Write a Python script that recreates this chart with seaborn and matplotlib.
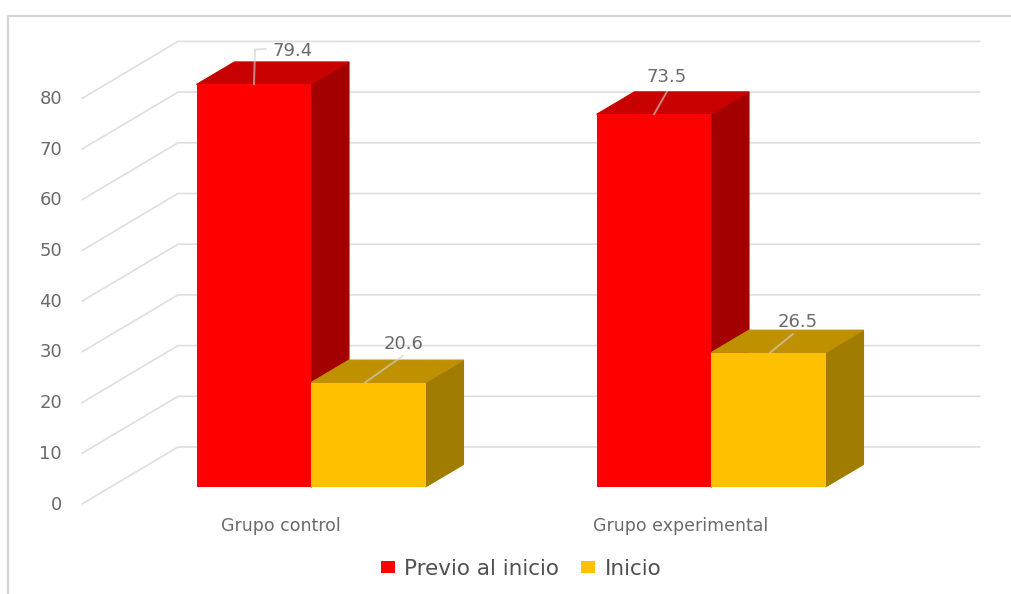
import pandas as pd
import seaborn as sns
import matplotlib.pyplot as plt
from matplotlib.patches import Polygon

grupos = ["Grupo control", "Grupo experimental"]
previo = [79.4, 73.5]
inicio = [20.6, 26.5]
series = ["Previo al inicio", "Inicio"]
ticks = [0, 10, 20, 30, 40, 50, 60, 70, 80]

W, H = 1011, 594
PX_X = 400.0      # pixels per category
PX_Y = 5.07       # pixels per percent
BASE_X, BASE_Y = 311, 487

front = {"Previo al inicio": "#FF0000", "Inicio": "#FFC000"}
side = {"Previo al inicio": "#A30000", "Inicio": "#A07C00"}
top = {"Previo al inicio": "#C80000", "Inicio": "#BF9000"}
GRID = "#DEDEDE"
TEXT = "#6A6A6A"


def px(x):
    return (x - BASE_X) / PX_X


def py(y):
    return (BASE_Y - y) / PX_Y


data = pd.DataFrame({
    "grupo": grupos * 2,
    "serie": [series[0]] * 2 + [series[1]] * 2,
    "valor": previo + inicio,
})

sns.set_theme(style="white")
plt.rcParams["font.family"] = ["DejaVu Sans"]

fig = plt.figure(figsize=(W / 100, H / 100), dpi=100)
ax = fig.add_axes([0, 0, 1, 1])
sns.barplot(data=data, x="grupo", y="valor", hue="serie", palette=front,
            width=0.5725, gap=0, saturation=1, linewidth=0, ax=ax, zorder=5)
ax.set_xlim(px(0), px(W))
ax.set_ylim(py(H), py(0))
ax.axis("off")

# depth of the bars and of the floor, in data units
dx = 38 / PX_X
dy = 22.5 / PX_Y
wall_x0, wall_x1 = px(178), px(980)
wall_dy = 40 / PX_Y
front_x = px(82)
front_dy = -17 / PX_Y

for t in ticks:
    ax.plot([front_x, wall_x0, wall_x1],
            [t + front_dy, t + wall_dy, t + wall_dy],
            color=GRID, lw=1.2, zorder=1)
    ax.text(px(62), t + (BASE_Y - 504.5) / PX_Y, str(t), ha="right", va="center",
            color=TEXT, fontsize=13)

for i, (name, container) in enumerate(zip(series, ax.containers)):
    for bar in container:
        x0 = bar.get_x()
        x1 = x0 + bar.get_width()
        h = bar.get_height()
        ax.add_patch(Polygon([(x1, 0), (x1 + dx, dy), (x1 + dx, h + dy), (x1, h)],
                             color=side[name], lw=0.8, zorder=2 + i))
        ax.add_patch(Polygon([(x0, h), (x0 + dx, h + dy), (x1 + dx, h + dy), (x1, h)],
                             color=top[name], lw=0.8, zorder=2 + i))

# leader lines and value labels, offset from each bar's top
labels = [
    (previo[0], 0, -0.1425, [(0.0, 0.0), (0.0025, 6.9), (0.03, 7.0)], 0.0975, 6.5),
    (previo[1], 1, -0.1425, [(0.0, 0.0), (0.0325, 4.5)], 0.0325, 7.4),
    (inicio[0], 0, 0.135, [(0.0, 0.0), (0.095, 5.3)], 0.0975, 7.7),
    (inicio[1], 1, 0.1475, [(0.0, 0.0), (0.0575, 3.7)], 0.07, 6.0),
]
for value, cat, off, path, tx, ty in labels:
    xs = [cat + off + p[0] for p in path]
    ys = [value + p[1] for p in path]
    ax.plot(xs, ys, color="#D0D0D0", alpha=0.65, lw=1.4, zorder=6)
    ax.text(cat + off + tx, value + ty, f"{value:.1f}", ha="center", va="center",
            color=TEXT, fontsize=13, zorder=7)

for i, g in enumerate(grupos):
    ax.text(i - 30 / PX_X, py(526), g, ha="center", va="center", color=TEXT, fontsize=12.5)

# outer frame of the picture
ax.plot([px(8), px(8), px(W)], [py(H), py(16), py(16)], color="#D4D4D4", lw=1.6, zorder=1)

handles, names = ax.get_legend_handles_labels()
ax.legend(handles, names, loc="center", bbox_to_anchor=(521 / W, 1 - 569 / H), ncol=2,
          frameon=False, fontsize=15.5, labelcolor="#505050", handlelength=0.65,
          handleheight=0.5, handletextpad=0.45, columnspacing=1.0)

fig.savefig("out.png", dpi=100)
